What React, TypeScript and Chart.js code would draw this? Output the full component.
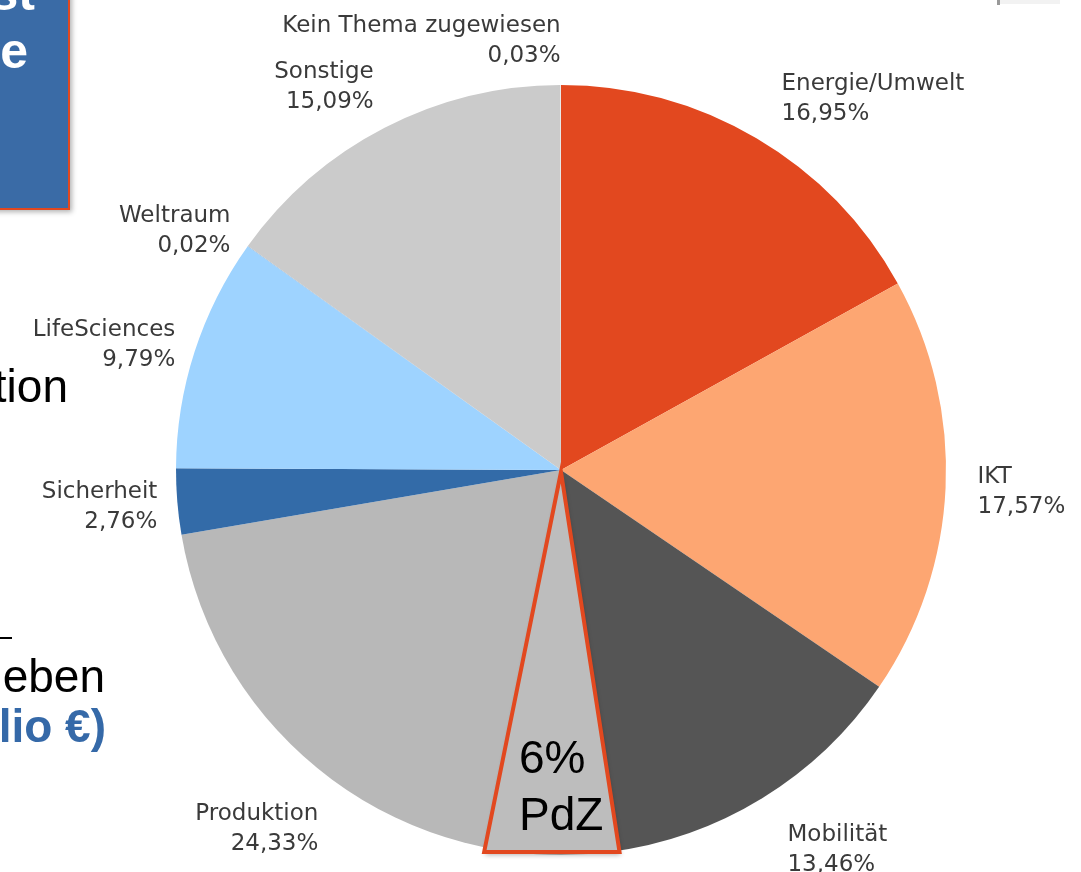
import React, { useEffect, useRef } from "react";
import { Chart, registerables } from "chart.js";

Chart.register(...registerables);

const categories = [
  "Energie/Umwelt",
  "IKT",
  "Mobilität",
  "Produktion",
  "Sicherheit",
  "LifeSciences",
  "Weltraum",
  "Sonstige",
  "Kein Thema zugewiesen",
];
const shares = [16.95, 17.57, 13.46, 24.33, 2.76, 9.79, 0.02, 15.09, 0.03];
const shareLabels = ["16,95%", "17,57%", "13,46%", "24,33%", "2,76%", "9,79%", "0,02%", "15,09%", "0,03%"];
const sliceColors = ["#E2481F", "#FDA672", "#555555", "#B8B8B8", "#336BA8", "#9ED3FF", "#7FB5E6", "#CBCBCB", "#E6E6E6"];
const PDZ_SHARE = 6;
const PDZ_INDEX = 3;

const labelPlugin = {
  id: "outerLabels",
  afterDraw(chart: any) {
    const ctx = chart.ctx;
    const meta = chart.getDatasetMeta(0);
    ctx.save();
    ctx.font = "23px 'DejaVu Sans'";
    ctx.fillStyle = "#3a3a3a";
    ctx.textBaseline = "middle";
    meta.data.forEach((arc: any, i: number) => {
      const a = (arc.startAngle + arc.endAngle) / 2;
      const c = Math.cos(a);
      const s = Math.sin(a);
      const d = arc.outerRadius + 32;
      let px = arc.x + d * c;
      if (c >= 0) px += 18 * (1 - Math.abs(c));
      else px += 12 * Math.pow(Math.abs(c), 1.5);
      const k = Math.max(0, Math.min(1, (Math.abs(s) - 0.6) / 0.2));
      const push = s < 0 ? 15 : 21;
      const py = arc.y + d * s + Math.sign(s) * push * k + 3;
      ctx.textAlign = c >= 0 ? "left" : "right";
      ctx.fillText(categories[i], px, py - 15);
      ctx.fillText(shareLabels[i], px, py + 15);
    });
    ctx.restore();
  },
};

const pdzPlugin = {
  id: "pdzTriangle",
  afterDatasetsDraw(chart: any) {
    const ctx = chart.ctx;
    const arc = chart.getDatasetMeta(0).data[PDZ_INDEX];
    const cx = arc.x;
    const cy = arc.y;
    const r = arc.outerRadius;
    const a0 = arc.startAngle - 0.004 * Math.PI * 2;
    const a1 = a0 + (PDZ_SHARE / 100) * Math.PI * 2 * 0.93;
    const baseY = cy + r * 0.992;
    const p0x = cx + ((baseY - cy) / Math.sin(a0)) * Math.cos(a0);
    const p1x = cx + ((baseY - cy) / Math.sin(a1)) * Math.cos(a1);
    ctx.save();
    ctx.beginPath();
    ctx.moveTo(cx, cy + 2);
    ctx.lineTo(p0x, baseY);
    ctx.lineTo(p1x, baseY);
    ctx.closePath();
    ctx.shadowColor = "rgba(0,0,0,0.3)";
    ctx.shadowBlur = 5;
    ctx.shadowOffsetX = 1;
    ctx.shadowOffsetY = 3;
    ctx.fillStyle = "#BDBDBD";
    ctx.fill();
    ctx.shadowColor = "rgba(0,0,0,0)";
    ctx.lineWidth = 4;
    ctx.lineJoin = "miter";
    ctx.strokeStyle = "#E2481F";
    ctx.stroke();
    ctx.restore();
  },
};

const slideFont = "'Liberation Sans', Arial, sans-serif";

export default function App() {
  const ref = useRef<HTMLCanvasElement | null>(null);
  useEffect(() => {
    document.body.style.margin = "0";
    if (!ref.current) return;
    const chart = new Chart(ref.current, {
      type: "pie",
      data: {
        labels: categories,
        datasets: [
          {
            data: shares,
            backgroundColor: sliceColors,
            borderWidth: 0,
          },
        ],
      },
      options: {
        animation: false,
        responsive: false,
        layout: { padding: { left: 176, right: 135, top: 85, bottom: 17 } },
        plugins: { legend: { display: false }, tooltip: { enabled: false } },
      },
      plugins: [pdzPlugin, labelPlugin],
    });
    return () => chart.destroy();
  }, []);

  const abs = (extra: React.CSSProperties): React.CSSProperties => ({
    position: "absolute",
    fontFamily: slideFont,
    fontSize: 46,
    lineHeight: "57px",
    whiteSpace: "nowrap",
    ...extra,
  });

  return (
    <div style={{ position: "fixed", left: 0, top: 0, width: 1081, height: 872, overflow: "hidden", background: "#fff" }}>
      <canvas ref={ref} width={1081} height={872} style={{ position: "absolute", left: 0, top: 0 }} />
      {/* blue title box */}
      <div
        style={{
          position: "absolute",
          left: -10,
          top: -10,
          width: 78,
          height: 218,
          background: "#3A6BA6",
          borderRight: "2px solid #E2481F",
          borderBottom: "2px solid #E2481F",
          boxShadow: "2px 2px 5px rgba(0,0,0,0.3)",
          overflow: "hidden",
        }}
      >
        <div style={{ position: "absolute", right: 33, top: -26, fontFamily: slideFont, fontWeight: "bold", fontSize: 50, lineHeight: "58px", color: "#fff", whiteSpace: "nowrap" }}>st</div>
        <div style={{ position: "absolute", right: 40, top: 32, fontFamily: slideFont, fontWeight: "bold", fontSize: 50, lineHeight: "58px", color: "#fff", whiteSpace: "nowrap" }}>e</div>
      </div>
      {/* partial slide texts */}
      <div style={abs({ left: -300, width: 368, textAlign: "right", top: 358, color: "#000" })}>tion</div>
      <div style={{ position: "absolute", left: 0, top: 637, width: 12, height: 2, background: "#000" }} />
      <div style={abs({ left: -300, width: 405, textAlign: "right", top: 648, color: "#000" })}>eben</div>
      <div style={abs({ left: -300, width: 406, textAlign: "right", top: 698, color: "#3569A8", fontWeight: "bold" })}>lio €)</div>
      {/* PdZ annotation */}
      <div style={abs({ left: 519, top: 729, color: "#000" })}>
        6%
        <br />
        PdZ
      </div>
      {/* corner mark */}
      <div style={{ position: "absolute", left: 1000, top: 0, width: 60, height: 4, background: "#f2f2f2" }} />
      <div style={{ position: "absolute", left: 997, top: 0, width: 3, height: 5, background: "#999" }} />
    </div>
  );
}
